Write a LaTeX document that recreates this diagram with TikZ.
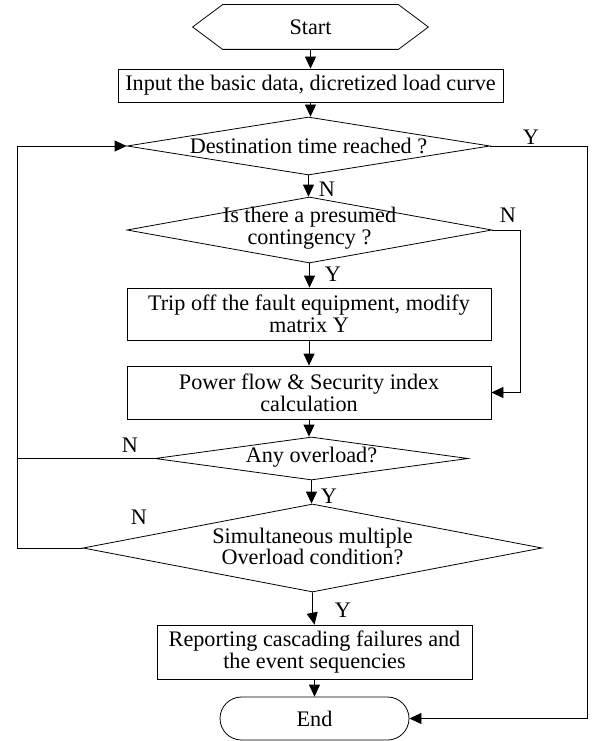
\documentclass[tikz,border=0pt]{standalone}
\usepackage{fontspec}
\setmainfont{Liberation Serif}
\usetikzlibrary{shapes.geometric,shapes.misc,arrows.meta,calc}
\begin{document}
\begin{tikzpicture}[x=1pt,y=-1pt,
  every node/.style={font=\fontsize{22.2}{21.7}\selectfont},
  box/.style={draw, rectangle, inner sep=0pt, align=center},
  dia/.style={draw, diamond, inner sep=0pt},
  lbl/.style={inner sep=0pt, align=center},
  arr/.style={-{Triangle[length=12pt,width=11pt]}},
  line width=0.8pt]
\useasboundingbox (0,0) rectangle (593,741);
% nodes
\node[rectangle, inner sep=0pt, minimum width=235pt, minimum height=44pt] (start) at (310.5,27) {Start};
\draw (start.west) -- ($(start.north west)+(30,0)$) -- ($(start.north east)+(-30,0)$) -- (start.east)
      -- ($(start.south east)+(-30,0)$) -- ($(start.south west)+(30,0)$) -- cycle;
\node[box, minimum width=385pt, minimum height=33pt] (inp) at (310.5,85.5) {Input the basic data, dicretized load curve};
\node[dia, minimum width=363pt, minimum height=58pt] (d1) at (308.5,146) {};
\node[lbl] (d1t) at (d1.center) {Destination time reached ?};
\node[dia, minimum width=365pt, minimum height=66pt] (d2) at (309.5,230) {};
\node[lbl] (d2t) at (309.5,228.5) {Is there a presumed\\contingency ?};
\node[box, minimum width=364pt, minimum height=52pt] (b1) at (309,314) {Trip off the fault equipment, modify\\matrix Y};
\node[box, minimum width=364pt, minimum height=53pt] (b2) at (309,392.5) {Power flow \& Security index\\calculation};
\node[dia, minimum width=313pt, minimum height=43pt] (d3) at (311.5,458.5) {};
\node[lbl] (d3t) at (311.5,457.5) {Any overload?};
\node[dia, minimum width=459pt, minimum height=88pt] (d4) at (312.5,548) {};
\node[lbl] (d4t) at (312.5,546.5) {Simultaneous multiple\\Overload condition?};
\node[box, minimum width=315pt, minimum height=54pt] (b3) at (314.5,652) {Reporting cascading failures and\\the event sequencies};
\node[draw, rounded rectangle, inner sep=0pt, minimum width=189pt, minimum height=43pt] (end) at (314.5,718.5) {End};
% labels
\node[lbl] (y1) at (531,137) {Y};
\node[lbl] (n1) at (327,189) {N};
\node[lbl] (n2) at (508,215) {N};
\node[lbl] (y2) at (333,274) {Y};
\node[lbl] (n3) at (130,445) {N};
\node[lbl] (y3) at (329,496) {Y};
\node[lbl] (n4) at (139,517) {N};
\node[lbl] (y4) at (343,610) {Y};
% helper coordinates
\coordinate (lx) at (17,0);
\coordinate (rx) at (587,0);
\coordinate (r2) at (520,0);
% connectors
\draw[arr] (start.south) -- (start.south |- inp.north);
\draw[arr] (inp.south) -- (inp.south |- d1.north);
\draw[arr] (d1.south) -- (d1.south |- d2.north);
\draw[arr] (d2.south) -- (d2.south |- b1.north);
\draw[arr] (b1.south) -- (b2.north);
\draw[arr] (b2.south) -- (b2.south |- d3.north);
\draw[arr] (d3.south) -- (d3.south |- d4.north);
\draw[arr] (d4.south) -- ($(d4.south)+(0,22)$) -- (b3.north);
\draw[arr] (b3.south) -- (b3.south |- end.north);
\draw[arr] (d2.east) -- (d2.east -| r2) |- (b2.east);
\draw[arr] (d1.east) -- (d1.east -| rx) |- (end.east);
\draw (d3.west) -- (d3.west -| lx);
\draw[arr] (d4.west) -- (d4.west -| lx) |- (d1.west);
\end{tikzpicture}
\end{document}
